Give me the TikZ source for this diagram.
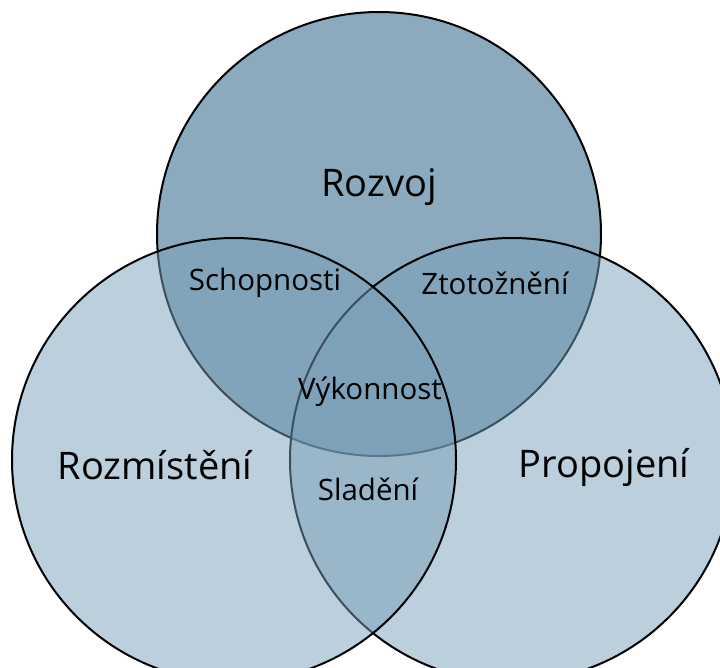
\documentclass[tikz,border=0pt]{standalone}
\usepackage{fontspec}
\setmainfont{Open Sans}
\begin{document}
\begin{tikzpicture}[x=1pt,y=-1pt,
  circ/.style={draw=black,line width=2pt},
  big/.style={font=\fontsize{38}{44}\selectfont},
  small/.style={font=\fontsize{29.5}{34}\selectfont}]
\definecolor{topfill}{HTML}{8BAABD}
\definecolor{sidefill}{HTML}{799FB9}
\useasboundingbox (0,0) rectangle (720,667);
\begin{scope}
\clip (0,0) rectangle (720,667);
\draw[circ,fill=topfill] (379,234) circle[radius=222];
\draw[circ,fill=sidefill,fill opacity=0.5] (512,460) circle[radius=222];
\draw[circ,fill=sidefill,fill opacity=0.5] (234,460) circle[radius=222];
\end{scope}
\node[big] (rozvoj) at (379,187) {Rozvoj};
\node[big] (rozm) at (155,465) {Rozmístění};
\node[big] (prop) at (604,467) {Propojení};
\node[small] (schop) at (265,283) {Schopnosti};
\node[small] (ztot) at (495,283) {Ztotožnění};
\node[small] (vyk) at (370,392) {Výkonnost};
\node[small] (slad) at (368,489) {Sladění};
\end{tikzpicture}
\end{document}
